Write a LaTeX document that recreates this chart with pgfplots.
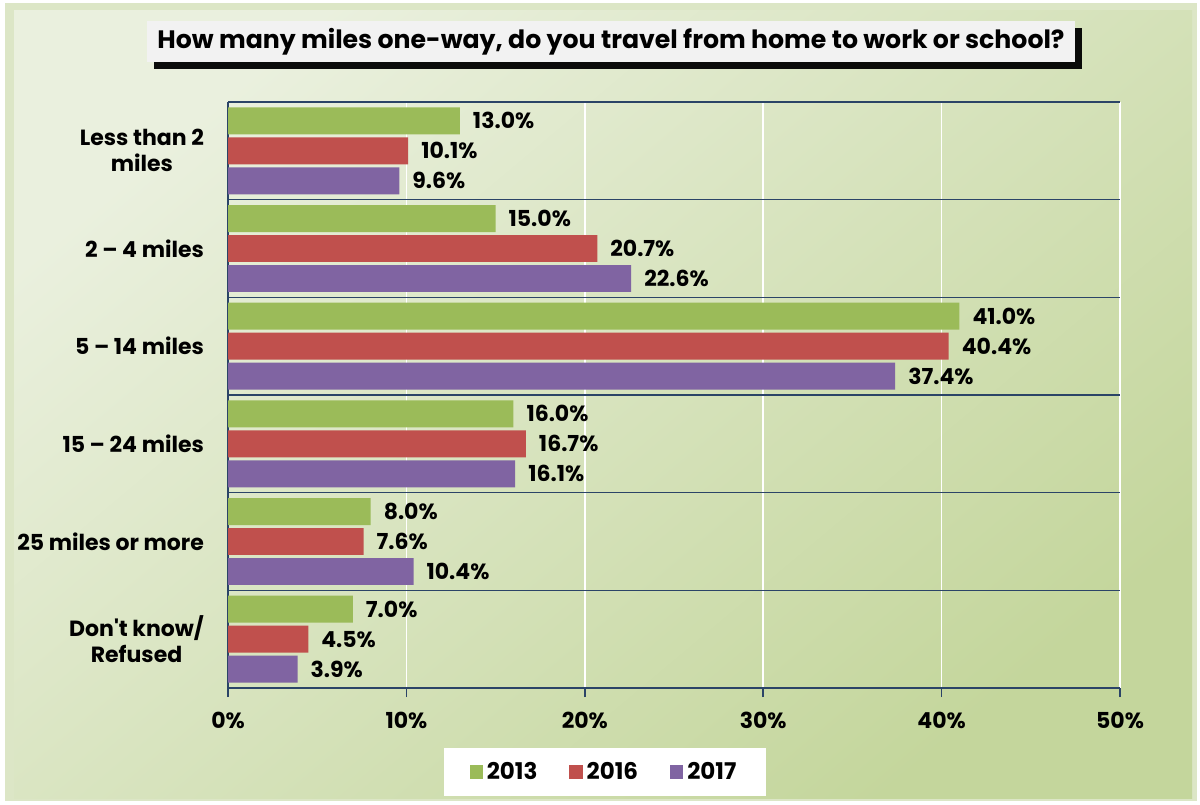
\documentclass[border=0pt]{standalone}
\usepackage{pgfplots}
\pgfplotsset{compat=1.18}
\usepackage{fontspec}
\setmainfont{Poppins}[Ligatures=TeXOff]
\usetikzlibrary{shadows}
\definecolor{gA}{HTML}{9BBB59}
\definecolor{gB}{HTML}{C0504D}
\definecolor{gC}{HTML}{8064A2}
\definecolor{navy}{HTML}{2B4467}
\definecolor{frame}{HTML}{DCE6C6}
\definecolor{bgA}{HTML}{EAF0DE}
\definecolor{bgB}{HTML}{C4D69C}
\definecolor{ttl}{HTML}{F2F2F2}
\begin{document}
\begin{tikzpicture}[x=1pt,y=1pt]
\useasboundingbox (0,0) rectangle (600,402);
\fill[white] (0,0) rectangle (600,402);
\fill[frame] (2.5,1.5) rectangle (598.5,400.5);
\shade[top color=bgA, bottom color=bgB, shading angle=40] (7,3) rectangle (596,396.5);
\node[draw=none,fill=ttl,minimum width=464pt,minimum height=20.5pt,
      drop shadow={fill=black,opacity=0.95,shadow xshift=3.5pt,shadow yshift=-3.5pt},
      font=\bfseries\fontsize{12.6}{14}\selectfont] at (305.5,381.3) {How many miles one-way, do you travel from home to work or school?};
\begin{axis}[
  at={(114pt,58pt)}, anchor=south west,
  scale only axis, width=446pt, height=293pt,
  xmin=0, xmax=50, ymin=-0.5, ymax=5.5, y dir=reverse,
  axis x line=bottom, axis y line=left,
  axis line style={draw=navy,line width=0.8pt,-},
  /pgf/number format/assume math mode=true,
  xtick={0,10,20,30,40,50},
  xticklabels={0\%,10\%,20\%,30\%,40\%,50\%},
  xmajorgrids, major grid style={white,line width=0.8pt},
  tick align=outside, major tick length=4.5pt,
  x tick style={navy,line width=0.8pt},
  ytick={0,1,2,3,4,5},
  yticklabels={{Less than 2\\miles},{2 – 4 miles},{5 – 14 miles},{15 – 24 miles},{25 miles or more},{Don't know/\\Refused}},
  y tick style={draw=none},
  extra y ticks={-0.5,0.5,1.5,2.5,3.5,4.5,5.5},
  extra y tick labels={},
  extra y tick style={grid=major, major grid style={navy,line width=0.8pt}, tick style={draw=navy,line width=0.8pt}},
  ticklabel style={font=\bfseries\fontsize{11}{13}\selectfont},
  yticklabel style={align=center, xshift=-4pt},
  xticklabel style={yshift=-4pt},
  xbar, bar width=0.276,
  point meta=x,
  nodes near coords={\pgfmathprintnumber[fixed,fixed zerofill,precision=1,assume math mode=true]{\pgfplotspointmeta}\%},
  nodes near coords style={font=\bfseries\fontsize{11}{13}\selectfont, anchor=west, xshift=3pt, black},
  legend style={at={(0.4226,-0.1433)}, anchor=center, draw=none, fill=white,
     legend columns=3, font=\bfseries\fontsize{11.5}{13}\selectfont,
     /tikz/every even column/.append style={column sep=14pt},
     inner xsep=13pt, inner ysep=5pt},
  legend image code/.code={\fill[#1] (0pt,-3.3pt) rectangle (6.6pt,3.3pt);},
  clip=false,
]
\addplot[fill=gA, draw=none, bar shift=-0.307] coordinates {(13.0,0) (15.0,1) (41.0,2) (16.0,3) (8.0,4) (7.0,5)};
\addplot[fill=gB, draw=none, bar shift=0] coordinates {(10.1,0) (20.7,1) (40.4,2) (16.7,3) (7.6,4) (4.5,5)};
\addplot[fill=gC, draw=none, bar shift=0.307] coordinates {(9.6,0) (22.6,1) (37.4,2) (16.1,3) (10.4,4) (3.9,5)};
\legend{2013,2016,2017}
\end{axis}
\end{tikzpicture}
\end{document}
